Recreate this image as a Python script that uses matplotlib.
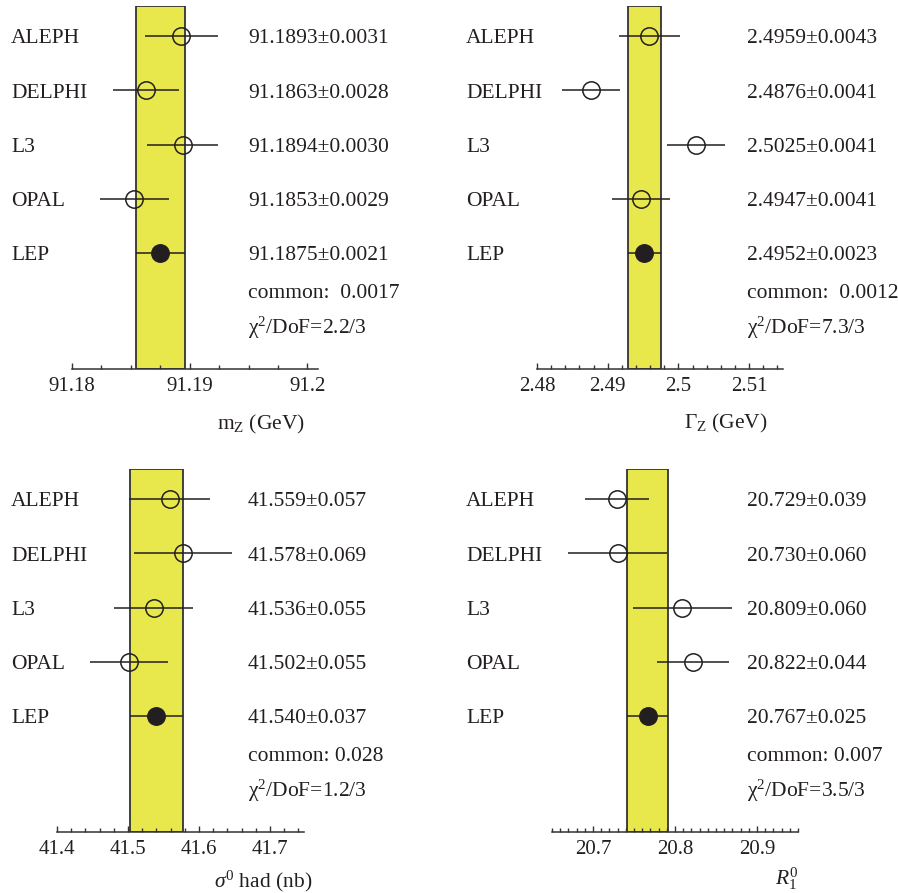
import matplotlib
matplotlib.use("Agg")
import matplotlib.pyplot as plt
from matplotlib.ticker import FixedLocator, MultipleLocator, FormatStrFormatter
from matplotlib.transforms import blended_transform_factory

plt.rcParams['font.family'] = ['Liberation Serif', 'DejaVu Serif']
plt.rcParams['mathtext.fontset'] = 'custom'
plt.rcParams['mathtext.rm'] = 'Liberation Serif'
plt.rcParams['mathtext.it'] = 'Liberation Serif:italic'
plt.rcParams['mathtext.bf'] = 'Liberation Serif:bold'

experiments = ['ALEPH', 'DELPHI', 'L3', 'OPAL', 'LEP']

mz_val = [91.1893, 91.1863, 91.1894, 91.1853, 91.1875]
mz_err = [0.0031, 0.0028, 0.0030, 0.0029, 0.0021]
mz_common = "0.0017"
mz_chi2 = "2.2/3"

gz_val = [2.4959, 2.4876, 2.5025, 2.4947, 2.4952]
gz_err = [0.0043, 0.0041, 0.0041, 0.0041, 0.0023]
gz_common = "0.0012"
gz_chi2 = "7.3/3"

sig_val = [41.559, 41.578, 41.536, 41.502, 41.540]
sig_err = [0.057, 0.069, 0.055, 0.055, 0.037]
sig_common = "0.028"
sig_chi2 = "1.2/3"

rl_val = [20.729, 20.730, 20.809, 20.822, 20.767]
rl_err = [0.039, 0.060, 0.060, 0.044, 0.025]
rl_common = "0.007"
rl_chi2 = "3.5/3"

W, H = 898, 893
fig = plt.figure(figsize=(W / 100, H / 100), dpi=100)

TXT = '#231f20'
BAND = '#e8e84c'

panels = [
    dict(val=mz_val, err=mz_err, common=mz_common, chi=mz_chi2, dec=4, sep='  ',
         x0=72, x1=318, ay=369, top=6, xlim=(91.18, 91.2009),
         major=[91.18, 91.19, 91.20], minor=0.0025, fmt='%g',
         lab_x=11, val_x=248, xlabel=r'm$_\mathrm{Z}$ (GeV)', xl=(261, 424)),
    dict(val=gz_val, err=gz_err, common=gz_common, chi=gz_chi2, dec=4, sep='  ',
         x0=537, x1=783, ay=369, top=6, xlim=(2.48, 2.5148),
         major=[2.48, 2.49, 2.50, 2.51], minor=0.002, fmt='%g',
         lab_x=466, val_x=747, xlabel=r'$\mathrm{\Gamma}_\mathrm{Z}$ (GeV)', xl=(726, 423)),
    dict(val=sig_val, err=sig_err, common=sig_common, chi=sig_chi2, dec=3, sep=' ',
         x0=57, x1=304, ay=832, top=469, xlim=(41.4, 41.748),
         major=[41.4, 41.5, 41.6, 41.7], minor=0.02, fmt='%g',
         lab_x=11, val_x=248, xlabel=r'$\sigma^0$ had (nb)', xl=(263, 881)),
    dict(val=rl_val, err=rl_err, common=rl_common, chi=rl_chi2, dec=3, sep=' ',
         x0=552, x1=798, ay=832, top=469, xlim=(20.65, 20.95),
         major=[20.7, 20.8, 20.9], minor=0.01, fmt='%g',
         lab_x=466, val_x=747, xlabel=r'$R^0_1$', xl=(787, 879)),
]

ROW0_OFF = 30.0   # pixels below band top of first row
ROW_SP = 54.3
DY = 0.05         # small downward nudge of text baselines

for p in panels:
    left = p['x0'] / W
    width = (p['x1'] - p['x0']) / W
    bottom = 1 - p['ay'] / H
    height = (p['ay'] - p['top']) / H
    ax = fig.add_axes([left, bottom, width, height])
    ax.set_xlim(*p['xlim'])
    ybot = (p['ay'] - p['top'] - ROW0_OFF) / ROW_SP
    ytop = -ROW0_OFF / ROW_SP
    ax.set_ylim(ybot, ytop)
    for s in ['top', 'left', 'right']:
        ax.spines[s].set_visible(False)
    ax.spines['bottom'].set_color('#333333')
    ax.spines['bottom'].set_linewidth(1.1)
    ax.set_yticks([])
    ax.xaxis.set_major_locator(FixedLocator(p['major']))
    ax.xaxis.set_major_formatter(FormatStrFormatter(p['fmt']))
    ax.xaxis.set_minor_locator(MultipleLocator(p['minor']))
    ax.tick_params(axis='x', which='major', direction='in', length=4.5, width=1.0,
                   color='#333333', pad=6, labelsize=15, labelcolor=TXT)
    ax.tick_params(axis='x', which='minor', direction='in', length=3.0, width=1.0,
                   color='#333333')

    vals, errs = p['val'], p['err']
    lep, lep_e = vals[-1], errs[-1]
    ax.axvspan(lep - lep_e, lep + lep_e, facecolor=BAND, edgecolor='#333333',
               linewidth=1.3, zorder=1)

    for i, (v, e) in enumerate(zip(vals, errs)):
        filled = (i == len(vals) - 1)
        ax.errorbar([v], [i], xerr=[e], fmt='o', ms=12.5, mew=1.1,
                    mfc='#231f20' if filled else 'none', mec='#231f20',
                    ecolor='#231f20', elinewidth=1.1, capsize=0, zorder=3)

    tr = blended_transform_factory(fig.transFigure, ax.transData)
    for i, name in enumerate(experiments):
        ax.text(p['lab_x'] / W, i + DY, name, transform=tr, fontsize=15.5, color=TXT,
                ha='left', va='center', clip_on=False)
        d = p['dec']
        ax.text(p['val_x'] / W, i + DY, f"{vals[i]:.{d}f}\u00b1{errs[i]:.{d}f}",
                transform=tr, fontsize=15.5, color=TXT, ha='left', va='center',
                clip_on=False)
    ax.text(p['val_x'] / W, 4.69 + DY, f"common:{p['sep']}{p['common']}", transform=tr,
            fontsize=15.5, color=TXT, ha='left', va='center', clip_on=False)
    ax.text(p['val_x'] / W, 5.35 + 0.02, r"$\mathrm{\chi}^\mathrm{2}$/DoF=" + p['chi'],
            transform=tr, fontsize=15.5, color=TXT, ha='left', va='center',
            clip_on=False)

    fig.text(p['xl'][0] / W, 1 - p['xl'][1] / H, p['xlabel'], fontsize=15.5,
             color=TXT, ha='center', va='center')

fig.savefig('out.png', dpi=100, facecolor='white')
